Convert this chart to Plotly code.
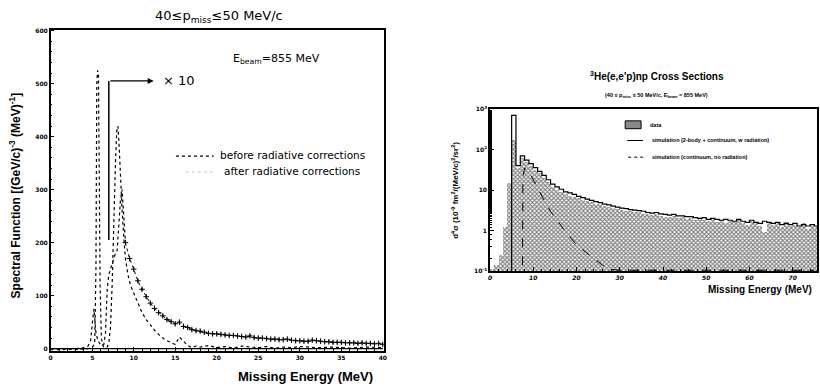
import plotly.graph_objects as go

# ---------------- Left panel data ----------------
after_x = [0, 2, 4.0, 4.5, 5.0, 5.3, 5.45, 5.55, 5.65, 5.75, 5.85, 5.95, 6.1, 6.3, 6.5, 6.8, 7.0, 7.2, 7.4,
           7.6, 7.8, 7.95, 8.1, 8.25, 8.4, 8.6, 8.8, 9.0, 9.3, 9.6, 10.0, 10.5, 11.0, 11.5, 12.0, 12.5,
           13.0, 13.5, 14.0, 14.5, 15.0, 15.5, 16.0, 16.5, 17.0, 17.5, 18, 19, 20, 21, 22, 23, 24, 25, 26,
           27, 28, 29, 30, 32, 34, 36, 38, 40]
after_y = [-2, -2, -1, 0, 2, 10, 150, 500, 525, 520, 350, 120, 20, 5, 2, 3, 10, 40, 120,
           250, 350, 410, 420, 380, 320, 260, 210, 170, 140, 120, 105, 85, 68, 55, 44, 35,
           27, 20, 15, 11, 8, 22, 14, 6, 2, 5, 3, 6, 2, 4, 1, 5, 3, 2, 4,
           1, 3, 2, 4, 2, 3, 1, 3, 2]

before_x = [3.0, 4.0, 4.5, 4.8, 5.0, 5.1, 5.2, 5.3, 5.4, 5.6, 5.8, 6.0, 6.2, 6.4, 6.6, 6.8, 7.0,
            7.2, 7.4, 7.6, 7.8, 8.0, 8.2, 8.4, 8.6, 8.8, 9.0]
before_y = [0, 2, 5, 15, 45, 65, 75, 60, 35, 20, 12, 8, 6, 8, 30, 110, 140,
            150, 160, 172, 180, 185, 230, 280, 300, 250, 200]

tail_x = [9.0, 9.5, 10.0, 10.5, 11.0, 11.5, 12.0, 12.5, 13.0, 13.5, 14.0, 14.5, 15.0, 15.5, 16.0,
          16.5, 17.0, 17.5, 18.0, 18.5, 19.0, 19.5, 20.0, 20.5, 21.0, 21.5, 22.0, 22.5, 23.0, 23.5,
          24.0, 24.5, 25.0, 25.5, 26.0, 26.5, 27.0, 27.5, 28.0, 28.5, 29.0, 29.5, 30.0, 30.5, 31.0,
          31.5, 32.0, 32.5, 33.0, 33.5, 34.0, 34.5, 35.0, 35.5, 36.0, 36.5, 37.0, 37.5, 38.0, 38.5,
          39.0, 39.5, 40.0]
tail_y = [200, 170, 150, 128, 112, 98, 86, 76, 68, 62, 55, 51, 47, 50, 42,
          40, 36, 34, 33, 31, 29, 28, 28, 27, 26, 25, 25, 24, 23, 22,
          24, 21, 20, 20, 19, 18, 18, 17, 17, 18, 16, 15, 15, 14, 14,
          16, 15, 14, 13, 13, 12, 12, 12, 11, 11, 11, 10, 11, 10, 10,
          9, 10, 8]

# ---------------- Right panel data ----------------
bin_lo = list(range(0, 76))
data_vals = [0.11, 0.14, 0.25, 1.2, 15, 170, 35, 60, 50, 40, 32, 26, 20, 16, 12, 10, 9, 8, 7.2, 6.8,
             6.2, 5.8, 5.4, 5.0, 4.6, 4.4, 4.1, 3.8, 3.7, 3.4, 3.3, 3.1, 3.0, 2.8, 2.9, 2.6, 2.5, 2.4,
             2.5, 2.3, 2.2, 2.1, 2.3, 2.0, 2.1, 1.9, 2.0, 1.8, 1.9, 1.8, 1.7, 1.9, 1.6, 1.8, 1.5, 1.7,
             1.6, 1.8, 1.5, 1.4, 1.7, 1.5, 1.3, 0.9, 1.6, 1.4, 1.5, 1.2, 1.6, 1.3, 1.4, 1.2, 1.5, 1.1,
             1.3, 1.2]
sim_vals = [0.05, 0.05, 0.05, 0.05, 0.05, 700, 40, 70, 55, 45, 36, 29, 23, 18, 14, 12, 10.5, 9, 8.5,
            7.8, 7.0, 6.5, 6.0, 5.6, 5.2, 4.9, 4.5, 4.3, 4.0, 3.8, 3.6, 3.5, 3.3, 3.2, 3.1, 3.0, 2.8,
            2.7, 2.8, 2.6, 2.5, 2.4, 2.5, 2.3, 2.3, 2.2, 2.2, 2.1, 2.0, 2.1, 1.9, 2.0, 1.9, 1.8, 1.9,
            1.8, 1.7, 1.9, 1.7, 1.6, 1.8, 1.6, 1.5, 1.7, 1.6, 1.5, 1.6, 1.4, 1.5, 1.4, 1.5, 1.3, 1.4,
            1.3, 1.4, 1.3]
cont_x = [7.5, 7.6, 8, 9, 10, 11, 12, 13, 14, 15, 16, 17, 18, 19, 20, 22, 24, 26, 28, 30, 40, 50, 60, 75]
cont_y = [0.05, 20, 35, 28, 18, 11, 7, 4.5, 3, 2.1, 1.5, 1.1, 0.8, 0.6, 0.45, 0.3, 0.2, 0.14, 0.11,
          0.105, 0.105, 0.105, 0.105, 0.105]

fig = go.Figure()

# Left panel traces
fig.add_trace(go.Scatter(x=after_x, y=after_y, mode="lines", xaxis="x", yaxis="y",
                         line=dict(color="black", width=1.2, dash="dot"), showlegend=False))
fig.add_trace(go.Scatter(x=before_x, y=before_y, mode="lines", xaxis="x", yaxis="y",
                         line=dict(color="black", width=1.2, dash="dot"), showlegend=False))
fig.add_trace(go.Scatter(x=tail_x, y=tail_y, mode="lines+markers", xaxis="x", yaxis="y",
                         line=dict(color="black", width=1, dash="dot"),
                         marker=dict(symbol="cross-thin", size=4, line=dict(color="black", width=1)),
                         error_y=dict(type="constant", value=3, width=0, thickness=1, color="black"),
                         showlegend=False))

# Right panel traces
fig.add_trace(go.Bar(x=[b + 0.5 for b in bin_lo], y=data_vals, width=1, xaxis="x2", yaxis="y2",
                     marker=dict(color="white",
                                 pattern=dict(shape="x", fgcolor="black", bgcolor="white", size=3, solidity=0.6),
                                 line=dict(width=0)),
                     showlegend=False))
fig.add_trace(go.Scatter(x=bin_lo + [76], y=sim_vals + [sim_vals[-1]], mode="lines", line_shape="hv",
                         xaxis="x2", yaxis="y2", line=dict(color="black", width=1.2), showlegend=False))
fig.add_trace(go.Scatter(x=cont_x, y=cont_y, mode="lines", xaxis="x2", yaxis="y2",
                         line=dict(color="black", width=1, dash="dash"), showlegend=False))

tickf = dict(family="DejaVu Sans", size=6, color="black", weight="bold")
axis_common = dict(showline=True, linecolor="black", linewidth=1.5, mirror=True, ticks="inside",
                   showgrid=False, zeroline=False, tickcolor="black", tickfont=tickf)

fig.update_layout(
    width=820, height=389, margin=dict(l=0, r=0, t=0, b=0),
    paper_bgcolor="white", plot_bgcolor="white", bargap=0,
    xaxis=dict(domain=[49/820, 384/820], range=[0, 40.1], tickvals=[0, 5, 10, 15, 20, 25, 30, 35, 40],
               ticklen=4, minor=dict(dtick=1, ticklen=2, ticks="inside", tickcolor="black"), anchor="y",
               **axis_common),
    yaxis=dict(domain=[1-353/389, 1-26/389], range=[-3.7, 602], tickvals=[0, 100, 200, 300, 400, 500, 600],
               ticklen=4, minor=dict(dtick=20, ticklen=2, ticks="inside", tickcolor="black"), anchor="x",
               **axis_common),
    xaxis2=dict(domain=[491/820, 1.0], range=[0, 75.6], tickvals=[0, 10, 20, 30, 40, 50, 60, 70],
                ticklen=4, minor=dict(dtick=2, ticklen=2, ticks="inside", tickcolor="black"), anchor="y2",
                **{**axis_common, "tickfont": dict(family="DejaVu Sans", size=6, color="black",
                                                    weight="bold", style="italic")}),
    yaxis2=dict(domain=[1-272/389, 1-107/389], type="log", range=[-1, 3],
                tickvals=[0.1, 1, 10, 100, 1000],
                ticktext=["10<sup>-1</sup>", "1", "10", "10<sup>2</sup>", "10<sup>3</sup>"],
                ticklen=4, minor=dict(ticklen=2, ticks="inside", tickcolor="black"), anchor="x2",
                **axis_common),
)


def ann(px, py, text, size, xa="center", ya="middle", family="DejaVu Sans", angle=0):
    fig.add_annotation(x=px/820, y=1-py/389, xref="paper", yref="paper", showarrow=False,
                       xanchor=xa, yanchor=ya, text=text, textangle=angle,
                       font=dict(family=family, size=size, color="black"))


# zero baseline in left panel
fig.add_shape(type="line", xref="x", yref="y", x0=0, x1=40, y0=0, y1=0, line=dict(color="black", width=1.2))
# x10 marker
fig.add_shape(type="line", xref="x", yref="y", x0=7.0, x1=7.0, y0=205, y1=505, line=dict(color="black", width=1.5))
fig.add_annotation(x=12.4, y=505, ax=7.0, ay=505, xref="x", yref="y", axref="x", ayref="y",
                   text="", showarrow=True, arrowhead=2, arrowsize=1, arrowwidth=1.2, arrowcolor="black")
fig.add_annotation(x=13.3, y=505, xref="x", yref="y", text="× 10", showarrow=False, xanchor="left",
                   yanchor="middle", font=dict(family="DejaVu Sans", size=13, color="black"))

# left texts
ann(218, 13, "40≤p<sub>miss</sub>≤50 MeV/c", 13)
ann(230, 56, "E<sub>beam</sub>=855 MeV", 11, xa="left")
fig.add_shape(type="line", xref="paper", yref="paper", x0=175/820, x1=213/820, y0=1-155/389, y1=1-155/389,
              line=dict(color="black", width=1.2, dash="dot"))
fig.add_shape(type="line", xref="paper", yref="paper", x0=185/820, x1=213/820, y0=1-171/389, y1=1-171/389,
              line=dict(color="#cccccc", width=1, dash="dot"))
ann(217, 154, "before radiative corrections", 10.5, xa="left")
ann(221, 170, "after radiative corrections", 10.5, xa="left")
ann(375, 379, "<b>Missing Energy (MeV)</b>", 13, xa="right", family="Liberation Sans")
ann(14, 195, "<b>Spectral Function [(GeV/c)<sup>-3</sup> (MeV)<sup>-1</sup>]</b>", 12,
    family="Liberation Sans", angle=-90)

# right texts
ann(659, 73, "<b><sup>3</sup>He(e,e'p)np Cross Sections</b>", 10, family="Liberation Sans")
ann(659, 93, "<b>(40 ≤ p<sub>miss</sub> ≤ 50 MeV/c, E<sub>beam</sub> = 855 MeV)</b>", 5.5, family="Liberation Sans")
ann(455, 190, "<b>d<sup>4</sup>σ (10<sup>-9</sup> fm<sup>2</sup>/(MeV/c)<sup>2</sup>/sr<sup>2</sup>)</b>", 8,
    family="Liberation Sans", angle=-90)
ann(817, 291, "<b>Missing Energy (MeV)</b>", 10, xa="right", family="Liberation Sans")

# right legend
fig.add_shape(type="rect", xref="paper", yref="paper", x0=627/820, x1=643/820, y0=1-127/389, y1=1-119/389,
              line=dict(color="black", width=1), fillcolor="#8a8a8a")
ann(650, 123, "<b>data</b>", 5.5, xa="left", family="Liberation Sans")
fig.add_shape(type="line", xref="paper", yref="paper", x0=629/820, x1=645/820, y0=1-139/389, y1=1-139/389,
              line=dict(color="black", width=1))
ann(652, 139, "<b>simulation (2-body + continuum, w radiation)</b>", 5.5, xa="left", family="Liberation Sans")
fig.add_shape(type="line", xref="paper", yref="paper", x0=630/820, x1=645/820, y0=1-156/389, y1=1-156/389,
              line=dict(color="black", width=1, dash="dot"))
ann(652, 156, "<b>simulation (continuum, no radiation)</b>", 5.5, xa="left", family="Liberation Sans")

fig.write_html("out.html")
